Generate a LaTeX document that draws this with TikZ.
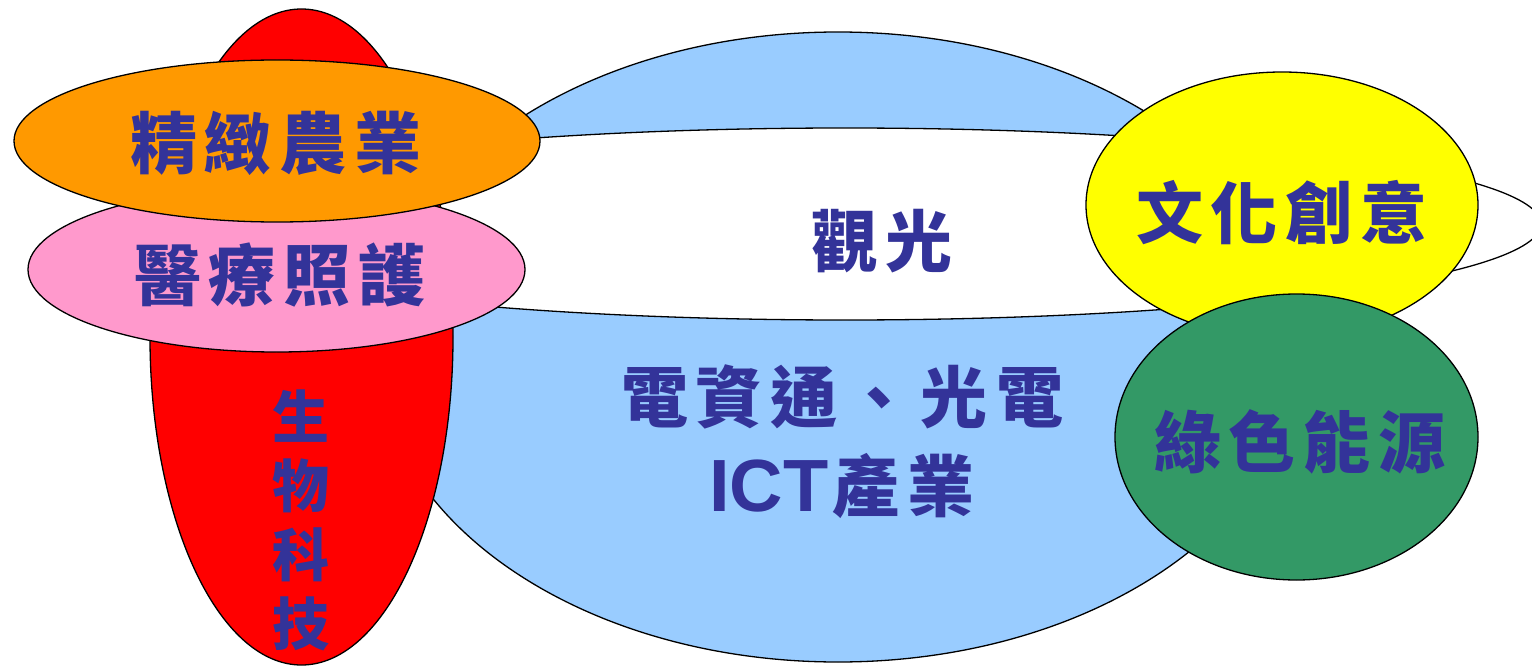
\documentclass[tikz,border=0pt]{standalone}
\usepackage{fontspec}
\usetikzlibrary{shapes.geometric}
\newfontfamily\cjk{Noto Sans CJK TC}
\newfontfamily\latinbold{Liberation Sans}
\definecolor{txtblue}{HTML}{333399}
\definecolor{ictblue}{HTML}{99CCFF}
\definecolor{biored}{HTML}{FF0000}
\definecolor{agriorange}{HTML}{FF9900}
\definecolor{medpink}{HTML}{FF99CC}
\definecolor{cultyellow}{HTML}{FFFF00}
\definecolor{energygreen}{HTML}{339966}
\newcommand{\gapk}{\kern 8pt}
\begin{document}
\begin{tikzpicture}[x=1pt,y=-1pt,
  blob/.style={ellipse, draw=black, line width=1.3pt, inner sep=0pt},
  lbl/.style={text=txtblue, font=\cjk\bfseries\fontsize{67}{89}\selectfont, inner sep=0pt, align=center}]
\useasboundingbox (0,0) rectangle (1532,666);
\clip (0,0) rectangle (1532,666);
% big blue ellipse (ICT)
\node[blob, fill=ictblue, minimum width=924pt, minimum height=630pt] (ict) at (838,347) {};
% white ellipse (tourism)
\node[blob, fill=white, minimum width=1392pt, minimum height=192pt] (tour) at (845,224) {};
% red ellipse (biotech)
\node[blob, fill=biored, minimum width=303pt, minimum height=656pt] (bio) at (301.5,337) {};
% pink ellipse (medical care)
\node[blob, fill=medpink, minimum width=497pt, minimum height=165pt] (med) at (276.5,269.5) {};
% orange ellipse (agriculture)
\node[blob, fill=agriorange, minimum width=526pt, minimum height=162pt] (agri) at (277,141) {};
% yellow ellipse (culture)
\node[blob, fill=cultyellow, minimum width=392pt, minimum height=266pt] (cult) at (1282,205) {};
% green ellipse (energy)
\node[blob, fill=energygreen, minimum width=363pt, minimum height=286pt] (energy) at (1296.5,437) {};
% labels
\node[lbl] (agritxt) at (276,143) {精\gapk 緻\gapk 農\gapk 業};
\node[lbl] (medtxt) at (280,275) {醫\gapk 療\gapk 照\gapk 護};
\node[lbl] (tourtxt) at (882,241) {觀\gapk 光};
\node[lbl] (culttxt) at (1282,213) {文\gapk 化\gapk 創\gapk 意};
\node[lbl] (energytxt) at (1300,442) {綠\gapk 色\gapk 能\gapk 源};
\node[lbl] (icttxt) at (842,442) {電\gapk 資\gapk 通\gapk 、\gapk 光\gapk 電\\{\latinbold\bfseries\fontsize{74}{89}\selectfont ICT}\kern4pt 產\gapk 業};
\node[lbl, font=\cjk\bfseries\fontsize{57}{69}\selectfont] (biotxt) at (301,520) {生\\物\\科\\技};
\end{tikzpicture}
\end{document}
